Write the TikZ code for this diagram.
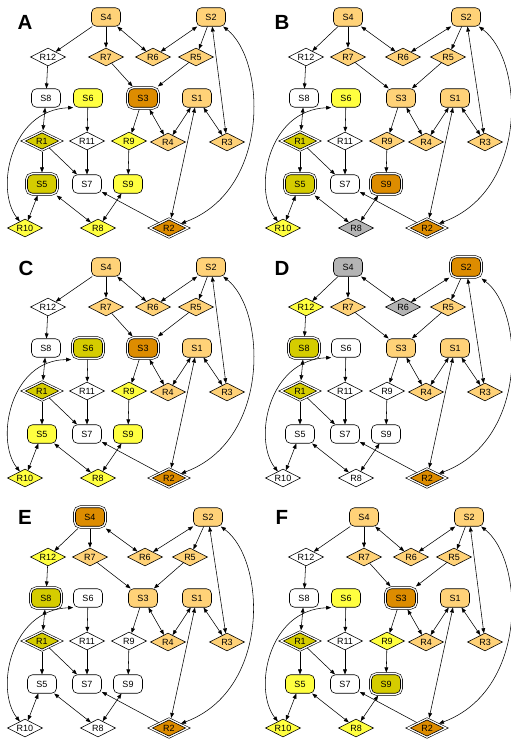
\documentclass[tikz,border=0pt]{standalone}
\usepackage{fontspec}
\setmainfont{Liberation Sans}
\usetikzlibrary{shapes.geometric,arrows.meta}
\definecolor{fluxlight}{RGB}{255,210,120}
\definecolor{fluxdark}{RGB}{221,140,0}
\definecolor{fluxyellow}{RGB}{255,255,64}
\definecolor{fluxolive}{RGB}{213,204,0}
\definecolor{fluxgrey}{RGB}{180,180,180}

\tikzset{
  state/.style={draw, rounded corners=5pt, fill=white, line width=0.6pt,
                minimum width=29pt, minimum height=18.5pt, inner sep=0pt,
                text height=6.5pt, text depth=0pt, font=\fontsize{9}{9}\selectfont},
  react/.style={draw, diamond, aspect=2, fill=white, line width=0.6pt,
                minimum width=35pt, minimum height=18pt, inner sep=0pt,
                text height=6.5pt, text depth=0pt, font=\fontsize{9}{9}\selectfont},
  lt/.style={fill=fluxlight},
  dk/.style={fill=fluxdark},
  yl/.style={fill=fluxyellow},
  ol/.style={fill=fluxolive},
  gy/.style={fill=fluxgrey},
  dbl/.style={preaction={draw=black, line width=4.6pt},
              preaction={draw=white, line width=3.4pt}, outer sep=2.3pt},
  uni/.style={-{Triangle[length=5pt,width=3.8pt]}, line width=0.55pt},
  bi/.style={{Triangle[length=5pt,width=3.8pt]}-{Triangle[length=5pt,width=3.8pt]}, line width=0.55pt},
  panel/.style={font=\fontsize{20.5}{21}\selectfont\bfseries},
  % default colouring of the nodes
  nS1/.style={lt}, nS2/.style={lt}, nS3/.style={lt}, nS4/.style={lt},
  nS5/.style={}, nS6/.style={}, nS7/.style={}, nS8/.style={}, nS9/.style={},
  nR1/.style={ol,dbl}, nR2/.style={dk,dbl}, nR3/.style={lt}, nR4/.style={lt},
  nR5/.style={lt}, nR6/.style={lt}, nR7/.style={lt}, nR8/.style={},
  nR9/.style={}, nR10/.style={}, nR11/.style={}, nR12/.style={}
}

% #1 prefix, #2 x of S4/R7, #3 x of R6, #4 x of R5, #5 x of S2
\newcommand{\network}[5]{%
  \node[state,nS4] (#1-S4) at (#2,17) {S4};
  \node[state,nS2] (#1-S2) at (#5,17) {S2};
  \node[react,nR12] (#1-R12) at (48,57) {R12};
  \node[react,nR7] (#1-R7) at (#2,57) {R7};
  \node[react,nR6] (#1-R6) at (#3,57) {R6};
  \node[react,nR5] (#1-R5) at (#4,57) {R5};
  \node[state,nS8] (#1-S8) at (46,98) {S8};
  \node[state,nS6] (#1-S6) at (88,98) {S6};
  \node[state,nS3] (#1-S3) at (143,98) {S3};
  \node[state,nS1] (#1-S1) at (197,98) {S1};
  \node[react,nR1] (#1-R1) at (42,141) {R1};
  \node[react,nR11] (#1-R11) at (87,141) {R11};
  \node[react,nR9] (#1-R9) at (129,141) {R9};
  \node[react,nR4] (#1-R4) at (168,142) {R4};
  \node[react,nR3] (#1-R3) at (227,142) {R3};
  \node[state,nS5] (#1-S5) at (42,184) {S5};
  \node[state,nS7] (#1-S7) at (87,184) {S7};
  \node[state,nS9] (#1-S9) at (128,184) {S9};
  \node[react,nR10] (#1-R10) at (25,228) {R10};
  \node[react,nR8] (#1-R8) at (98,228) {R8};
  \node[react,nR2] (#1-R2) at (169,228) {R2};
  % connectors
  \draw[uni] (#1-S4) -- (#1-R12);
  \draw[uni] (#1-S4) -- (#1-R7);
  \draw[bi] (#1-S4) -- (#1-R6);
  \draw[bi] (#1-S2) -- (#1-R6);
  \draw[uni] (#1-S2) -- (#1-R5);
  \draw[bi] (#1-S2) -- (#1-R3);
  \draw[bi] (#1-S2) .. controls (266,60) and (271,190) .. (#1-R2);
  \draw[uni] (#1-R12) -- (#1-S8);
  \draw[uni] (#1-R7) -- (#1-S3);
  \draw[uni] (#1-R5) -- (#1-S3);
  \draw[bi] (#1-S8) -- (#1-R1);
  \draw[uni] (#1-S6) -- (#1-R11);
  \draw[bi] (#1-S6.south west) .. controls (10,110) and (-5,190) .. (#1-R10);
  \draw[uni] (#1-S3) -- (#1-R9);
  \draw[bi] (#1-S3) -- (#1-R4);
  \draw[bi] (#1-S1) -- (#1-R4);
  \draw[bi] (#1-S1) -- (#1-R3);
  \draw[bi] (#1-S1) -- (#1-R2);
  \draw[uni] (#1-R1) -- (#1-S5);
  \draw[uni] (#1-R1) -- (#1-S7);
  \draw[uni] (#1-R11) -- (#1-S7);
  \draw[uni] (#1-R9) -- (#1-S9);
  \draw[bi] (#1-S5) -- (#1-R10);
  \draw[bi] (#1-S5) -- (#1-R8);
  \draw[bi] (#1-S9) -- (#1-R8);
  \draw[uni] (#1-R2) -- (#1-S7);
}

\begin{document}
\begin{tikzpicture}[x=1pt, y=-1pt]
\useasboundingbox (0,0) rectangle (511,739);

% panel labels
\node[panel] (labA) at (25,22) {A};
\node[panel] (labB) at (282,22) {B};
\node[panel] (labC) at (26,268) {C};
\node[panel] (labD) at (282,268) {D};
\node[panel] (labE) at (25,517) {E};
\node[panel] (labF) at (282,517) {F};

\begin{scope}[nS6/.style={yl}, nS3/.style={dk,dbl}, nR9/.style={yl},
  nS5/.style={ol,dbl}, nS9/.style={yl}, nR10/.style={yl}, nR8/.style={yl}]
  \network{A}{106}{153}{196}{211}
\end{scope}

\begin{scope}[shift={(258,0)}, nS6/.style={yl}, nR9/.style={lt},
  nS5/.style={ol,dbl}, nS9/.style={dk,dbl}, nR10/.style={yl}, nR8/.style={gy}]
  \network{B}{90}{145}{190}{208}
\end{scope}

\begin{scope}[shift={(0,250)}, nS6/.style={ol,dbl}, nS3/.style={dk,dbl},
  nR9/.style={yl}, nS5/.style={yl}, nS9/.style={yl}, nR10/.style={yl}, nR8/.style={yl}]
  \network{C}{106}{153}{196}{211}
\end{scope}

\begin{scope}[shift={(258,250)}, nS4/.style={gy}, nS2/.style={dk,dbl},
  nR12/.style={yl}, nR6/.style={gy}, nS8/.style={ol,dbl}]
  \network{D}{90}{145}{190}{208}
\end{scope}

\begin{scope}[shift={(0,500)}, nS4/.style={dk,dbl}, nR12/.style={yl},
  nS8/.style={ol,dbl}]
  \network{E}{90}{145}{190}{208}
\end{scope}

\begin{scope}[shift={(258,500)}, nS6/.style={yl}, nS3/.style={dk,dbl},
  nR9/.style={yl}, nS5/.style={yl}, nS9/.style={ol,dbl}, nR10/.style={yl}, nR8/.style={yl}]
  \network{F}{106}{153}{196}{211}
\end{scope}

\end{tikzpicture}
\end{document}
